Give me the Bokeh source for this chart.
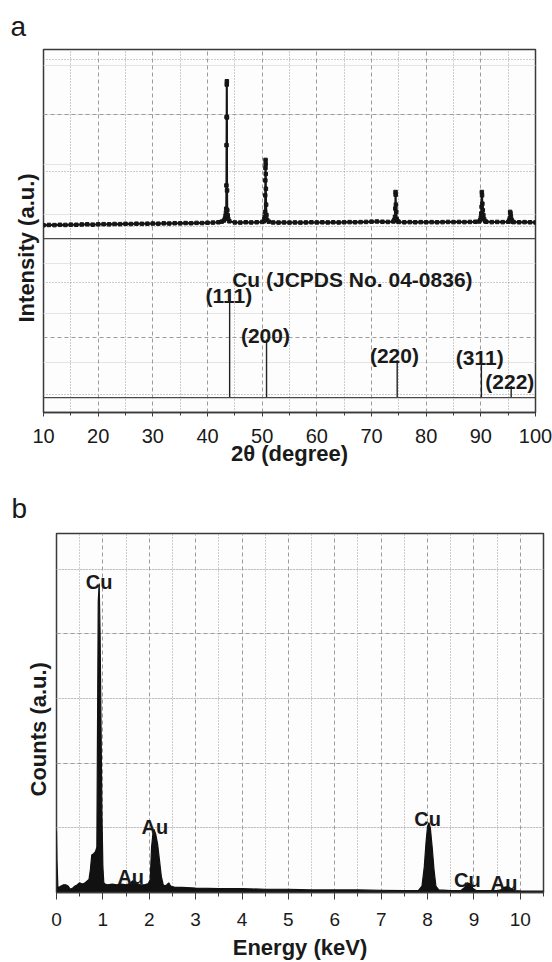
from bokeh.plotting import figure
from bokeh.models import Range1d, Grid, FixedTicker, SingleIntervalTicker, Span, Title
from bokeh.embed import file_html
from bokeh.resources import INLINE
from bokeh.core.properties import value

FONT = "Liberation Sans"
INK = "#1a1a1a"
FRAME = "#3a3a3a"
GRIDC = "#9c9c9c"

# ---------------- data: panel a (XRD) ----------------
xrd_two_theta = [10, 11, 12, 13, 14, 15, 16, 17, 18, 19, 20, 21, 22, 23, 24, 25, 26, 27, 28, 29,
                 30, 31, 32, 33, 34, 35, 36, 37, 38, 39, 40, 41, 42, 42.6, 43.0, 43.2, 43.3, 43.38,
                 43.42, 43.46, 43.48, 43.50, 43.52, 43.54, 43.56, 43.58, 43.62, 43.7, 43.8, 44.0,
                 45, 46, 47, 48, 49, 50, 50.3, 50.4, 50.48, 50.52, 50.56, 50.58, 50.60, 50.62, 50.64,
                 50.66, 50.68, 50.72, 50.78, 50.9, 51.2, 52, 53, 54, 55, 56, 57, 58, 59, 60, 61, 62,
                 63, 64, 65, 66, 67, 68, 69, 70, 71, 72, 73, 74.0, 74.2, 74.3, 74.36, 74.40, 74.42,
                 74.46, 74.52, 74.62, 74.8, 75, 76, 77, 78, 79, 80, 81, 82, 83, 84, 85, 86, 87, 88,
                 89, 89.7, 89.9, 90.0, 90.08, 90.14, 90.18, 90.22, 90.28, 90.36, 90.46, 90.6, 90.8,
                 91, 92, 93, 94, 95.0, 95.2, 95.3, 95.36, 95.42, 95.5, 95.62, 95.8, 96, 97, 98, 99, 100]
xrd_intensity = [8.5, 8.7, 8.6, 8.8, 8.7, 8.9, 8.8, 9.0, 9.1, 8.9, 9.1, 9.2, 9.1, 9.3, 9.2, 9.4, 9.3, 9.5, 9.4, 9.5,
                 9.6, 9.5, 9.7, 9.6, 9.8, 9.7, 9.9, 9.8, 10.0, 9.9, 10.1, 10.2, 10.4, 10.8, 11.5, 12.8, 14.5, 16.5,
                 19.0, 33.8, 59.4, 77.3, 97.9, 100.0, 77.0, 30.6, 18.0, 14.8, 12.5, 11.0,
                 10.3, 10.2, 10.4, 10.3, 10.4, 10.6, 11.0, 12.5, 13.9, 17.0, 27.5, 37.0, 44.9, 50.0, 47.4,
                 41.1, 31.7, 21.6, 15.0, 12.0, 10.8, 10.3, 10.2, 10.3, 10.2, 10.3, 10.2, 10.3, 10.4, 10.3, 10.4, 10.3,
                 10.4, 10.3, 10.4, 10.5, 10.4, 10.5, 10.6, 10.8, 10.9, 10.7, 10.6, 10.9, 12.0, 13.9, 19.1, 29.6, 27.9,
                 21.6, 17.0, 12.5, 11.0, 10.6, 10.4, 10.5, 10.4, 10.5, 10.4, 10.5, 10.4, 10.5, 10.6, 10.5, 10.6, 10.5, 10.6,
                 10.7, 10.9, 11.8, 13.5, 16.0, 20.2, 29.6, 27.5, 22.2, 18.0, 15.0, 12.5, 11.0,
                 10.7, 10.5, 10.6, 10.5, 10.7, 11.5, 13.0, 17.0, 16.0, 14.0, 12.0, 10.8, 10.5, 10.4, 10.5, 10.4, 10.3]

ref_two_theta = [44.05, 50.8, 74.7, 90.1, 95.55]
ref_intensity = [100, 55.6, 35.6, 38.1, 11.1]
ref_hkl = ["(111)", "(200)", "(220)", "(311)", "(222)"]
ref_title = "Cu (JCPDS No. 04-0836)"

# ---------------- data: panel b (EDS) ----------------
eds_energy = [0.0, 0.01, 0.03, 0.05, 0.1, 0.15, 0.2, 0.25, 0.3, 0.35, 0.4, 0.45, 0.5, 0.55, 0.6, 0.65,
              0.7, 0.73, 0.76, 0.8, 0.84, 0.87, 0.88, 0.9, 0.92, 0.94, 0.96, 0.98, 1.0, 1.02, 1.05,
              1.1, 1.2, 1.3, 1.4, 1.5, 1.58, 1.64, 1.7, 1.8, 1.9, 1.98, 2.02, 2.05, 2.08, 2.1, 2.14,
              2.18, 2.22, 2.26, 2.3, 2.34, 2.38, 2.42, 2.46, 2.55, 2.7, 3.0, 3.5, 4.0, 4.5, 5.0, 5.5,
              6.0, 6.5, 7.0, 7.5, 7.8, 7.88, 7.93, 7.97, 8.0, 8.03, 8.06, 8.1, 8.14, 8.18, 8.24, 8.5,
              8.72, 8.8, 8.86, 8.92, 8.98, 9.05, 9.5, 9.58, 9.65, 9.72, 9.8, 9.88, 10.0, 10.5]
eds_counts = [0.95, 0.5, 0.08, 0.08, 0.1, 0.12, 0.12, 0.1, 0.05, 0.07, 0.1, 0.12, 0.15, 0.13, 0.14, 0.17,
              0.2, 0.35, 0.58, 0.6, 0.63, 0.7, 2.0, 4.5, 4.78, 4.0, 2.6, 1.2, 0.4, 0.15, 0.13,
              0.12, 0.13, 0.12, 0.13, 0.12, 0.14, 0.18, 0.15, 0.12, 0.12, 0.14, 0.2, 0.7, 0.92, 0.98, 0.9,
              0.75, 0.5, 0.25, 0.12, 0.1, 0.12, 0.15, 0.1, 0.08, 0.08, 0.07, 0.06, 0.06, 0.05, 0.05, 0.04,
              0.04, 0.04, 0.035, 0.03, 0.03, 0.1, 0.4, 0.8, 1.02, 1.08, 1.0, 0.7, 0.35, 0.1, 0.04, 0.03,
              0.03, 0.08, 0.15, 0.13, 0.06, 0.03, 0.03, 0.04, 0.08, 0.09, 0.06, 0.03, 0.025, 0.02]

eds_peak_names = ["Cu", "Au", "Au", "Cu", "Cu", "Au"]

# ---------------- layout (pixels) ----------------
A_W, A_H = 552, 480
A_L, A_R, A_T, A_B = 43, 17, 46, 68
A_FH = A_H - A_T - A_B            # frame height
SEP_HI, SEP_LO = 175.3, 15.0      # separator lines, px above frame bottom
XRD_ZERO, XRD_FULL = 175.3, 334.0  # px of intensity 0 and 100 (top pattern)
REF_ZERO, REF_FULL = 15.0, 120.6   # px of relative intensity 0 and 100 (stick pattern)

# label anchor positions for panel a (2theta, relative intensity in stick scale)
hkl_lab_x = [43.9, 50.6, 74.2, 89.8, 95.3]
hkl_lab_y = [97.3, 59.0, 40.1, 38.2, 15.0]
title_lab_x, title_lab_y = 66.5, 112.7

B_W, B_H = 552, 482
B_L, B_R, B_T, B_B = 56, 9, 53, 68
B_FH = B_H - B_T - B_B
B_YTOP = B_FH / 65.0
eds_lab_x = [0.92, 1.60, 2.12, 8.0, 8.86, 9.65]
eds_lab_y = [4.80, 0.24, 1.01, 1.14, 0.19, 0.15]


def px_range(zero_px, full_px, full_val, frame_h):
    s = (full_px - zero_px) / full_val
    return Range1d(-zero_px / s, (frame_h - zero_px) / s)


def add_grid(p, dim, ticks, dash):
    p.add_layout(Grid(dimension=dim, ticker=FixedTicker(ticks=ticks),
                      grid_line_color=GRIDC, grid_line_width=1, grid_line_dash=dash))


def style_axes(p, tick_size, label_size, tick_out, minor_out, label_standoff, axis_standoff):
    ax = p.xaxis[0]
    ax.axis_line_color = FRAME
    ax.axis_line_width = 1.5
    ax.major_tick_line_color = FRAME
    ax.minor_tick_line_color = FRAME
    ax.major_tick_in = 0
    ax.major_tick_out = tick_out
    ax.minor_tick_in = 0
    ax.minor_tick_out = minor_out
    ax.major_label_text_font = FONT
    ax.major_label_text_font_size = tick_size
    ax.major_label_text_color = INK
    ax.major_label_standoff = label_standoff
    ax.axis_label_text_font = FONT
    ax.axis_label_text_font_size = label_size
    ax.axis_label_text_font_style = "bold"
    ax.axis_label_text_color = INK
    ax.axis_label_standoff = axis_standoff
    p.xgrid.visible = False
    p.outline_line_color = FRAME
    p.outline_line_width = 1.5
    p.background_fill_color = "#fdfdfd"
    p.border_fill_color = "white"


def panel_title(text, offset, standoff):
    return Title(text=text, align="left", offset=offset, standoff=standoff,
                 text_font=FONT, text_font_size="28px", text_font_style="normal",
                 text_color=INK)


def y_label(text, offset, standoff):
    # left-side title, aligned from the frame bottom and shifted up by `offset`
    return Title(text=text, align="left", offset=offset, standoff=standoff,
                 text_font=FONT, text_font_size="22px", text_font_style="bold",
                 text_color=INK)


# ================= panel a =================
pa = figure(width=A_W, height=A_H, x_range=Range1d(10, 100), y_range=Range1d(0, A_FH),
            output_backend="svg", toolbar_location=None, y_axis_location=None,
            title=panel_title("a", -33, 16),
            min_border_left=A_L, min_border_right=A_R, min_border_top=A_T, min_border_bottom=A_B)
pa.extra_y_ranges = {"xrd": px_range(XRD_ZERO, XRD_FULL, 100.0, A_FH),
                     "ref": px_range(REF_ZERO, REF_FULL, 100.0, A_FH)}
pa.xaxis[0].ticker = SingleIntervalTicker(interval=10, num_minor_ticks=2)
pa.xaxis[0].axis_label = "2θ (degree)"
style_axes(pa, "20px", "22px", 4, 3, 12, -5)
pa.add_layout(y_label("Intensity (a.u.)", 90, 9), "left")

add_grid(pa, 0, [20, 30, 40, 50, 60, 70, 80, 90], "4 3")
add_grid(pa, 0, [15, 25, 35, 45, 55, 65, 75, 85, 95], "1 2")
add_grid(pa, 1, [300.0, 75.3], "4 3")
add_grid(pa, 1, [356.3, 243.3, 187.3, 130.6, 18.3], "1 2")
for loc in (SEP_HI, SEP_LO):
    pa.add_layout(Span(location=loc, dimension="width", line_color="#4a4a4a", line_width=1.4))

pa.line(xrd_two_theta, xrd_intensity, y_range_name="xrd", line_color="#151515", line_width=2.0)
pa.scatter(xrd_two_theta, xrd_intensity, y_range_name="xrd", marker="square", size=3.5,
           fill_color="#151515", line_color="#151515")
pa.segment(x0=ref_two_theta, y0=0, x1=ref_two_theta, y1=ref_intensity, y_range_name="ref",
           line_color="#222222", line_width=1.4)
pa.text(x=hkl_lab_x, y=hkl_lab_y, text=ref_hkl, y_range_name="ref",
        text_font=value(FONT), text_font_style="bold", text_font_size="21px",
        text_align="center", text_baseline="alphabetic", text_color=INK)
pa.text(x=[title_lab_x], y=[title_lab_y], text=[ref_title], y_range_name="ref",
        text_font=value(FONT), text_font_style="bold", text_font_size="21px",
        text_align="center", text_baseline="alphabetic", text_color=INK)

# ================= panel b =================
pb = figure(width=B_W, height=B_H, x_range=Range1d(0, 10.5), y_range=Range1d(0, B_YTOP),
            output_backend="svg", toolbar_location=None, y_axis_location=None,
            title=panel_title("b", -45, 19),
            min_border_left=B_L, min_border_right=B_R, min_border_top=B_T, min_border_bottom=B_B)
pb.xaxis[0].ticker = SingleIntervalTicker(interval=1, num_minor_ticks=2)
pb.xaxis[0].axis_label = "Energy (keV)"
style_axes(pb, "19px", "22px", 7, 4, 13, 6)
pb.add_layout(y_label("Counts (a.u.)", 96, 12), "left")

add_grid(pb, 0, [1, 2, 3, 4, 5, 6, 7, 8, 9, 10], "4 3")
add_grid(pb, 0, [0.5, 1.5, 2.5, 3.5, 4.5, 5.5, 6.5, 7.5, 8.5, 9.5], "1 2")
add_grid(pb, 1, [2, 4], "4 3")
add_grid(pb, 1, [1, 3, 5], "1 2")

pb.varea(x=eds_energy, y1=0, y2=eds_counts, fill_color="#111111")
pb.line(eds_energy, eds_counts, line_color="#111111", line_width=1.2)
pb.text(x=eds_lab_x, y=eds_lab_y, text=eds_peak_names,
        text_font=value(FONT), text_font_style="bold", text_font_size="20px",
        text_align="center", text_baseline="alphabetic", text_color=INK)

# two independent roots, stacked, so that each keeps its own frame margins
open("out.html", "w").write(file_html([pa, pb], INLINE, title="XRD and EDS"))
